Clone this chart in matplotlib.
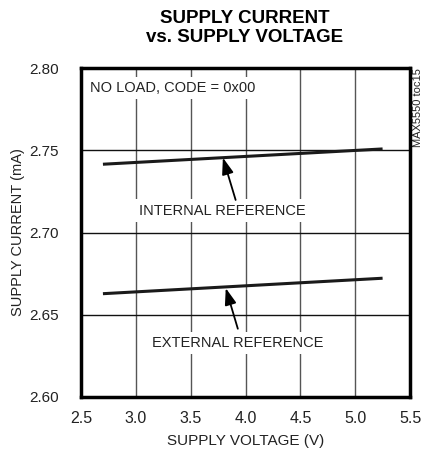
import matplotlib
matplotlib.use("Agg")
import matplotlib.pyplot as plt
from matplotlib import font_manager

names = {f.name for f in font_manager.fontManager.ttflist}
FONT = 'Liberation Sans Narrow' if 'Liberation Sans Narrow' in names else 'Liberation Sans'
plt.rcParams['font.family'] = [FONT, 'DejaVu Sans']

# data
voltage = [2.7, 5.25]
internal_ref = [2.7415, 2.7508]
external_ref = [2.6628, 2.6722]
x_ticks = [2.5, 3.0, 3.5, 4.0, 4.5, 5.0, 5.5]
y_ticks = [2.60, 2.65, 2.70, 2.75, 2.80]

fig = plt.figure(figsize=(4.24, 4.59), dpi=100)
ax = fig.add_axes([81/424, 1-397/459, 329/424, 329/459])

ax.set_xlim(2.5, 5.5)
ax.set_ylim(2.60, 2.80)
ax.set_xticks(x_ticks)
ax.set_yticks(y_ticks)
ax.set_xticklabels([f"{v:.1f}" for v in x_ticks])
ax.set_yticklabels([f"{v:.2f}" for v in y_ticks])
ax.tick_params(axis='x', length=0, labelsize=11.5, pad=10)
ax.tick_params(axis='y', length=0, labelsize=11, pad=16)
for lab in ax.get_xticklabels() + ax.get_yticklabels():
    lab.set_color('#222222')

ax.grid(axis='x', color='#555555', linewidth=1.0)
ax.grid(axis='y', color='#111111', linewidth=1.0)
ax.set_axisbelow(True)
for s in ax.spines.values():
    s.set_linewidth(2.5)
    s.set_color('black')

ax.plot(voltage, internal_ref, color='#1a1a1a', linewidth=2.2, solid_capstyle='butt', zorder=3)
ax.plot(voltage, external_ref, color='#1a1a1a', linewidth=2.2, solid_capstyle='butt', zorder=3)

bbox = dict(facecolor='white', edgecolor='none', pad=3)
ax.text(3.79, 2.7133, 'INTERNAL REFERENCE', ha='center', va='center', fontsize=10.5, color='#222222', bbox=bbox, zorder=4)
ax.text(3.93, 2.6327, 'EXTERNAL REFERENCE', ha='center', va='center', fontsize=10.5, color='#222222', bbox=bbox, zorder=4)
ax.text(2.58, 2.788, 'NO LOAD, CODE = 0x00', ha='left', va='center', fontsize=10.5, color='#222222', bbox=bbox, zorder=4)

arrow = dict(arrowstyle='-|>,head_length=1.0,head_width=0.35', color='black', lw=1.3, shrinkA=0, shrinkB=0)
ax.annotate('', xy=(3.794, 2.7455), xytext=(3.91, 2.7198), arrowprops=arrow, zorder=5)
ax.annotate('', xy=(3.82, 2.6662), xytext=(3.93, 2.6415), arrowprops=arrow, zorder=5)

ax.set_xlabel('SUPPLY VOLTAGE (V)', fontsize=11, color='#222222', labelpad=6)
ax.set_ylabel('SUPPLY CURRENT (mA)', fontsize=10.5, color='#222222', labelpad=3)

fig.text(245/424, 1-28/459, 'SUPPLY CURRENT\nvs. SUPPLY VOLTAGE', ha='center', va='center',
         fontsize=13.5, fontweight='bold', linespacing=1.15)
fig.text(418/424, 1-68/459, 'MAX5550 toc15', rotation=90, ha='center', va='top', fontsize=8, color='#222222')

fig.savefig('out.png', dpi=100)
